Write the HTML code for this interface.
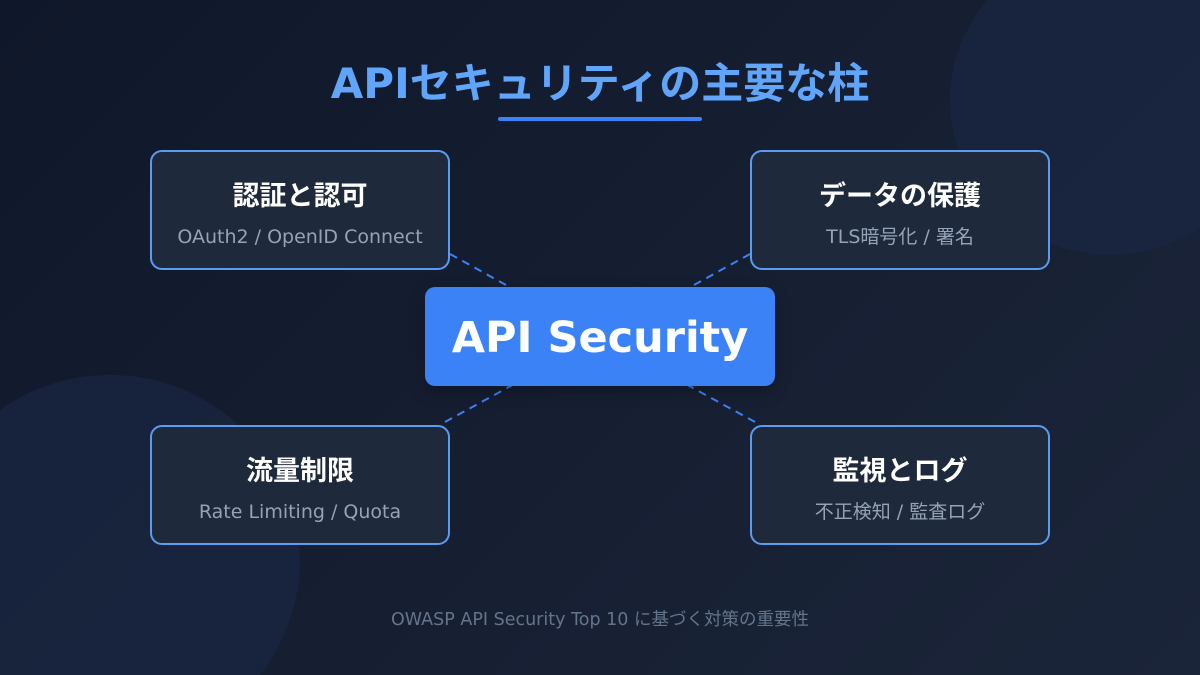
<!DOCTYPE html>
<html><head><meta charset="utf-8"><style>
*{margin:0;padding:0;box-sizing:border-box}
html,body{width:1200px;height:675px;overflow:hidden}
body{position:relative;font-family:"DejaVu Sans","Noto Sans CJK JP",sans-serif;background:linear-gradient(135deg,#0f172a 0%,#172033 60%,#1b2539 100%)}
.t{position:absolute;left:0;width:1200px;text-align:center}
.box{position:absolute;width:300px;height:120px;border:2px solid #5b9cf0;border-radius:12px;background:#1e293b}
.box h3{position:absolute;top:26px;width:100%;text-align:center;color:#fff;font-size:27px;font-weight:700;line-height:38px}
.box p{position:absolute;top:73px;width:100%;text-align:center;color:#94a3b8;font-size:19px;line-height:24px}
</style></head><body>
<svg style="position:absolute;left:0;top:0;display:block;overflow:hidden" width="1200" height="675" viewBox="0 0 1200 675">
<path d="M950 100 A160 155 0 0 1 1200 -28 L1200 228 A160 155 0 0 1 950 100 Z" fill="#1a2642" opacity=".75"/>
<path d="M0 410 A190 190 0 0 1 300 565 A190 190 0 0 1 260 675 L0 675 Z" fill="#1a2642" opacity=".75"/>
<g stroke="#3b82f6" stroke-width="2" stroke-dasharray="8 6">
<line x1="450" y1="254" x2="600" y2="337"/><line x1="750" y1="254" x2="600" y2="337"/>
<line x1="445" y1="422" x2="600" y2="337"/><line x1="755" y1="422" x2="600" y2="337"/>
</g></svg>
<div class="t" style="top:56px;font-size:42px;font-weight:700;color:#60a5fa;line-height:56px">APIセキュリティの主要な柱</div>
<div style="position:absolute;left:498px;top:117px;width:204px;height:4px;border-radius:2px;background:#3b82f6"></div>
<div class="box" style="left:150px;top:150px"><h3>認証と認可</h3><p>OAuth2 / OpenID Connect</p></div>
<div class="box" style="left:750px;top:150px"><h3>データの保護</h3><p>TLS暗号化 / 署名</p></div>
<div class="box" style="left:150px;top:425px"><h3>流量制限</h3><p>Rate Limiting / Quota</p></div>
<div class="box" style="left:750px;top:425px"><h3>監視とログ</h3><p>不正検知 / 監査ログ</p></div>
<div style="position:absolute;left:425px;top:287px;width:350px;height:99px;border-radius:10px;background:#3b82f6;box-shadow:0 6px 16px rgba(0,0,0,.3);color:#fff;font-size:43px;font-weight:700;text-align:center;line-height:103px">API Security</div>
<div class="t" style="top:608px;font-size:17.5px;color:#64748b;line-height:24px">OWASP API Security Top 10 に基づく対策の重要性</div>
</body></html>
